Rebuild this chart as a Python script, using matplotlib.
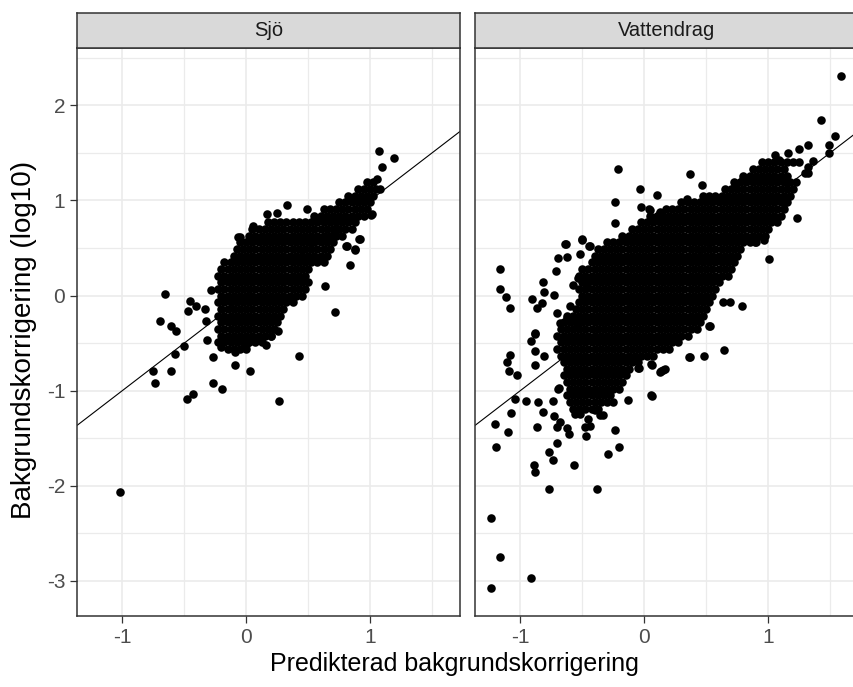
import matplotlib

matplotlib.use("Agg")

import matplotlib.pyplot as plt

# ---- data ----
PANELS = ["Sjö", "Vattendrag"]
X_TICKS = [-1, 0, 1]
Y_TICKS = [-3, -2, -1, 0, 1, 2]
X_LIM = (-1.365, 1.725)
Y_LIM = (-3.368, 2.602)

# dense core of each cloud, row by row (y level, x values)
sjo_core_y = [-0.56, -0.49, -0.42, -0.35, -0.28, -0.21, -0.14, -0.07, 0.00, 0.07, 0.14, 0.21, 0.28,
              0.35, 0.42, 0.49, 0.56, 0.63, 0.70, 0.77, 0.84, 0.91, 0.98, 1.05, 1.12, 1.19]
sjo_core_x = [
    [-0.15, -0.10, -0.05, 0.00],
    [-0.225, -0.175, -0.125, -0.075, -0.025, 0.025, 0.075, 0.125],
    [-0.20, -0.15, -0.10, -0.05, 0.00, 0.05, 0.10, 0.15, 0.20],
    [-0.225, -0.175, -0.125, -0.075, -0.025, 0.025, 0.075, 0.125, 0.175, 0.225],
    [-0.20, -0.15, -0.10, -0.05, 0.00, 0.05, 0.10, 0.15, 0.20, 0.25],
    [-0.225, -0.175, -0.125, -0.075, -0.025, 0.025, 0.075, 0.125, 0.175, 0.225, 0.275],
    [-0.20, -0.15, -0.10, -0.05, 0.00, 0.05, 0.10, 0.15, 0.20, 0.25, 0.30],
    [-0.225, -0.175, -0.125, -0.075, -0.025, 0.025, 0.075, 0.125, 0.175, 0.225, 0.275, 0.325, 0.375],
    [-0.20, -0.15, -0.10, -0.05, 0.00, 0.05, 0.10, 0.15, 0.20, 0.25, 0.30, 0.35, 0.40, 0.45],
    [-0.225, -0.175, -0.125, -0.075, -0.025, 0.025, 0.075, 0.125, 0.175, 0.225, 0.275, 0.325, 0.375, 0.425, 0.475],
    [-0.20, -0.15, -0.10, -0.05, 0.00, 0.05, 0.10, 0.15, 0.20, 0.25, 0.30, 0.35, 0.40, 0.45, 0.50],
    [-0.225, -0.175, -0.125, -0.075, -0.025, 0.025, 0.075, 0.125, 0.175, 0.225, 0.275, 0.325, 0.375, 0.425, 0.475],
    [-0.20, -0.15, -0.10, -0.05, 0.00, 0.05, 0.10, 0.15, 0.20, 0.25, 0.30, 0.35, 0.40, 0.45, 0.50],
    [-0.175, -0.125, -0.075, -0.025, 0.025, 0.075, 0.125, 0.175, 0.225, 0.275, 0.325, 0.375, 0.425, 0.475,
     0.525, 0.575, 0.625],
    [-0.10, -0.05, 0.00, 0.05, 0.10, 0.15, 0.20, 0.25, 0.30, 0.35, 0.40, 0.45, 0.50, 0.55, 0.60, 0.65],
    [-0.075, -0.025, 0.025, 0.075, 0.125, 0.175, 0.225, 0.275, 0.325, 0.375, 0.425, 0.475, 0.525, 0.575,
     0.625, 0.675],
    [-0.05, 0.00, 0.05, 0.10, 0.15, 0.20, 0.25, 0.30, 0.35, 0.40, 0.45, 0.50, 0.55, 0.60, 0.65, 0.70],
    [0.025, 0.075, 0.125, 0.175, 0.225, 0.275, 0.325, 0.375, 0.425, 0.475, 0.525, 0.575, 0.625, 0.675,
     0.725, 0.775],
    [0.05, 0.10, 0.15, 0.20, 0.25, 0.30, 0.35, 0.40, 0.45, 0.50, 0.55, 0.60, 0.65, 0.70, 0.75, 0.80, 0.85],
    [0.175, 0.225, 0.275, 0.325, 0.375, 0.425, 0.475, 0.525, 0.575, 0.625, 0.675, 0.725, 0.775, 0.825, 0.875],
    [0.55, 0.60, 0.65, 0.70, 0.75, 0.80, 0.85, 0.90, 0.95],
    [0.625, 0.675, 0.725, 0.775, 0.825, 0.875, 0.925, 0.975],
    [0.75, 0.80, 0.85, 0.90, 0.95, 1.00],
    [0.825, 0.875, 0.925, 0.975, 1.025],
    [0.90, 0.95, 1.00, 1.05],
    [0.975, 1.025],
]

# scattered points of Sjö outside the core
sjo_x = [1.07, 1.19, 1.097, 1.056, 1.076, 1.008, 0.909, 0.806, 0.874, 0.834, 0.632, 0.713, 0.331, 0.492,
         0.169, 0.25, 0.054, -0.053, -0.653, -0.287, -0.698, -0.605, -0.565, -0.456, -0.47, -0.403, -0.335,
         -0.327, -0.502, -0.577, -0.752, -0.739, -0.605, -0.43, -0.476, -0.269, -0.196, -0.269, -0.315,
         -0.094, 0.027, 0.264, 0.423, 0.156, 0.0, -1.021, 0.917, 0.81, 0.877, 1.011, -0.065, -0.202,
         -0.094, 0.094, 0.256, 0.2, 0.72]
sjo_y = [1.52, 1.445, 1.35, 1.22, 1.125, 0.846, 0.596, 0.522, 0.487, 0.324, 0.097, -0.171, 0.947, 0.905,
         0.853, 0.863, 0.735, 0.619, 0.021, 0.06, -0.268, -0.32, -0.373, -0.06, -0.164, -0.111, -0.146,
         -0.268, -0.533, -0.613, -0.798, -0.916, -0.788, -1.031, -1.09, -0.916, -0.979, -0.648, -0.467,
         -0.728, -0.788, -1.112, -0.631, -0.516, -0.519, -2.069, 0.599, 0.526, 0.484, 0.857, 0.617, -0.544,
         -0.595, -0.439, -0.37, -0.42, 0.66]

vatt_core_y = [1.40, 1.33, 1.26, 1.19, 1.12, 1.05, 0.98, 0.91, 0.84, 0.77, 0.70, 0.63, 0.56, 0.49, 0.42,
               0.35, 0.28, 0.21, 0.14, 0.07, 0.00, -0.07, -0.14, -0.21, -0.28, -0.35, -0.42, -0.49, -0.56,
               -0.63, -0.70, -0.77, -0.84, -0.91, -0.98, -1.05, -1.12, -1.19]
vatt_core_x = [
    [0.95, 1.00, 1.05, 1.10, 1.15, 1.20, 1.25],
    [0.875, 0.925, 0.975, 1.025, 1.075, 1.125],
    [0.80, 0.85, 0.90, 0.95, 1.00, 1.05, 1.10, 1.15],
    [0.725, 0.775, 0.825, 0.875, 0.925, 0.975, 1.025, 1.075, 1.125, 1.175, 1.225],
    [0.65, 0.70, 0.75, 0.80, 0.85, 0.90, 0.95, 1.00, 1.05, 1.10, 1.15, 1.20],
    [0.475, 0.525, 0.575, 0.625, 0.675, 0.725, 0.775, 0.825, 0.875, 0.925, 0.975, 1.025, 1.075, 1.125, 1.175],
    [0.30, 0.35, 0.40, 0.45, 0.50, 0.55, 0.60, 0.65, 0.70, 0.75, 0.80, 0.85, 0.90, 0.95, 1.00, 1.05, 1.10,
     1.15],
    [0.175, 0.225, 0.275, 0.325, 0.375, 0.425, 0.475, 0.525, 0.575, 0.625, 0.675, 0.725, 0.775, 0.825,
     0.875, 0.925, 0.975, 1.025, 1.075, 1.125],
    [0.05, 0.10, 0.15, 0.20, 0.25, 0.30, 0.35, 0.40, 0.45, 0.50, 0.55, 0.60, 0.65, 0.70, 0.75, 0.80, 0.85,
     0.90, 0.95, 1.00, 1.05, 1.10],
    [-0.025, 0.025, 0.075, 0.125, 0.175, 0.225, 0.275, 0.325, 0.375, 0.425, 0.475, 0.525, 0.575, 0.625,
     0.675, 0.725, 0.775, 0.825, 0.875, 0.925, 0.975, 1.025, 1.075],
    [-0.10, -0.05, 0.00, 0.05, 0.10, 0.15, 0.20, 0.25, 0.30, 0.35, 0.40, 0.45, 0.50, 0.55, 0.60, 0.65,
     0.70, 0.75, 0.80, 0.85, 0.90, 0.95, 1.00],
    [-0.175, -0.125, -0.075, -0.025, 0.025, 0.075, 0.125, 0.175, 0.225, 0.275, 0.325, 0.375, 0.425,
     0.475, 0.525, 0.575, 0.625, 0.675, 0.725, 0.775, 0.825, 0.875, 0.925, 0.975],
    [-0.30, -0.25, -0.20, -0.15, -0.10, -0.05, 0.00, 0.05, 0.10, 0.15, 0.20, 0.25, 0.30, 0.35, 0.40,
     0.45, 0.50, 0.55, 0.60, 0.65, 0.70, 0.75, 0.80, 0.85, 0.90],
    [-0.375, -0.325, -0.275, -0.225, -0.175, -0.125, -0.075, -0.025, 0.025, 0.075, 0.125, 0.175, 0.225,
     0.275, 0.325, 0.375, 0.425, 0.475, 0.525, 0.575, 0.625, 0.675, 0.725, 0.775],
    [-0.40, -0.35, -0.30, -0.25, -0.20, -0.15, -0.10, -0.05, 0.00, 0.05, 0.10, 0.15, 0.20, 0.25, 0.30,
     0.35, 0.40, 0.45, 0.50, 0.55, 0.60, 0.65, 0.70, 0.75],
    [-0.425, -0.375, -0.325, -0.275, -0.225, -0.175, -0.125, -0.075, -0.025, 0.025, 0.075, 0.125, 0.175,
     0.225, 0.275, 0.325, 0.375, 0.425, 0.475, 0.525, 0.575, 0.625, 0.675, 0.725],
    [-0.50, -0.45, -0.40, -0.35, -0.30, -0.25, -0.20, -0.15, -0.10, -0.05, 0.00, 0.05, 0.10, 0.15, 0.20,
     0.25, 0.30, 0.35, 0.40, 0.45, 0.50, 0.55, 0.60, 0.65, 0.70],
    [-0.525, -0.475, -0.425, -0.375, -0.325, -0.275, -0.225, -0.175, -0.125, -0.075, -0.025, 0.025, 0.075,
     0.125, 0.175, 0.225, 0.275, 0.325, 0.375, 0.425, 0.475, 0.525, 0.575, 0.625, 0.675],
    [-0.50, -0.45, -0.40, -0.35, -0.30, -0.25, -0.20, -0.15, -0.10, -0.05, 0.00, 0.05, 0.10, 0.15, 0.20,
     0.25, 0.30, 0.35, 0.40, 0.45, 0.50, 0.55, 0.60],
    [-0.525, -0.475, -0.425, -0.375, -0.325, -0.275, -0.225, -0.175, -0.125, -0.075, -0.025, 0.025, 0.075,
     0.125, 0.175, 0.225, 0.275, 0.325, 0.375, 0.425, 0.475, 0.525, 0.575],
    [-0.50, -0.45, -0.40, -0.35, -0.30, -0.25, -0.20, -0.15, -0.10, -0.05, 0.00, 0.05, 0.10, 0.15, 0.20,
     0.25, 0.30, 0.35, 0.40, 0.45, 0.50, 0.55],
    [-0.525, -0.475, -0.425, -0.375, -0.325, -0.275, -0.225, -0.175, -0.125, -0.075, -0.025, 0.025, 0.075,
     0.125, 0.175, 0.225, 0.275, 0.325, 0.375, 0.425, 0.475, 0.525],
    [-0.55, -0.50, -0.45, -0.40, -0.35, -0.30, -0.25, -0.20, -0.15, -0.10, -0.05, 0.00, 0.05, 0.10, 0.15,
     0.20, 0.25, 0.30, 0.35, 0.40, 0.45, 0.50],
    [-0.625, -0.575, -0.525, -0.475, -0.425, -0.375, -0.325, -0.275, -0.225, -0.175, -0.125, -0.075,
     -0.025, 0.025, 0.075, 0.125, 0.175, 0.225, 0.275, 0.325, 0.375, 0.425, 0.475],
    [-0.65, -0.60, -0.55, -0.50, -0.45, -0.40, -0.35, -0.30, -0.25, -0.20, -0.15, -0.10, -0.05, 0.00,
     0.05, 0.10, 0.15, 0.20, 0.25, 0.30, 0.35, 0.40, 0.45],
    [-0.675, -0.625, -0.575, -0.525, -0.475, -0.425, -0.375, -0.325, -0.275, -0.225, -0.175, -0.125,
     -0.075, -0.025, 0.025, 0.075, 0.125, 0.175, 0.225, 0.275, 0.325, 0.375, 0.425],
    [-0.70, -0.65, -0.60, -0.55, -0.50, -0.45, -0.40, -0.35, -0.30, -0.25, -0.20, -0.15, -0.10, -0.05,
     0.00, 0.05, 0.10, 0.15, 0.20, 0.25, 0.30, 0.35],
    [-0.675, -0.625, -0.575, -0.525, -0.475, -0.425, -0.375, -0.325, -0.275, -0.225, -0.175, -0.125,
     -0.075, -0.025, 0.025, 0.075, 0.125, 0.175, 0.225, 0.275],
    [-0.70, -0.65, -0.60, -0.55, -0.50, -0.45, -0.40, -0.35, -0.30, -0.25, -0.20, -0.15, -0.10, -0.05,
     0.00, 0.05, 0.10, 0.15, 0.20],
    [-0.675, -0.625, -0.575, -0.525, -0.475, -0.425, -0.375, -0.325, -0.275, -0.225, -0.175, -0.125,
     -0.075, -0.025, 0.025, 0.075],
    [-0.65, -0.60, -0.55, -0.50, -0.45, -0.40, -0.35, -0.30, -0.25, -0.20, -0.15, -0.10, -0.05],
    [-0.625, -0.575, -0.525, -0.475, -0.425, -0.375, -0.325, -0.275, -0.225, -0.175, -0.125],
    [-0.65, -0.60, -0.55, -0.50, -0.45, -0.40, -0.35, -0.30, -0.25, -0.20, -0.15],
    [-0.625, -0.575, -0.525, -0.475, -0.425, -0.375, -0.325, -0.275, -0.225, -0.175],
    [-0.60, -0.55, -0.50, -0.45, -0.40, -0.35, -0.30, -0.25, -0.20],
    [-0.625, -0.575, -0.525, -0.475, -0.425, -0.375, -0.325, -0.275],
    [-0.60, -0.55, -0.50, -0.45, -0.40, -0.35, -0.30],
    [-0.575, -0.525, -0.475, -0.425, -0.375],
]

# scattered points of Vattendrag outside the core
vatt_x = [1.587, 1.426, 1.541, 1.493, 1.493, 1.319, 1.158, 1.247, 1.059, 1.319, 1.322, 1.233, 1.131, 1.01,
          0.89, 0.97, 0.791, 0.636, 0.689, 0.528, -0.209, 0.367, 0.469, -0.035, 0.105, -0.237, -0.237,
          -0.022, 0.045, 0.131, 0.729, 0.796, 0.348, 0.035, 0.129, -1.166, -1.162, -1.113, -1.086, -0.907,
          -0.866, -0.826, -0.818, -0.81, -0.727, -0.711, -0.692, -0.625, -0.633, -0.504, -0.438, -0.518,
          -0.537, -0.571, -0.464, -0.705, -0.625, -0.598, -0.679, -0.88, -0.545, -0.636, -0.502, -0.442,
          -1.237, -1.162, -1.237, -0.912, -0.764, -0.384, -0.893, -0.88, -0.764, -0.732, -0.705, -0.563,
          -0.295, -0.204, -0.237, -1.194, -1.207, -1.102, -1.073, -1.046, -0.953, -0.866, -0.853, -0.818,
          -0.738, -0.727, -0.679, -0.625, -0.603, -0.692, -0.705, -0.478, -0.438, -0.47, 0.059, -0.129,
          -0.04, 0.059, 0.134, 0.166, 0.367, 0.483, 0.644, -0.88, -0.805, -0.912, -0.88, -1.108, -1.081,
          -1.027, -1.094, -0.88, 0.525, 0.364, -0.046, 0.056, 0.155, 0.129, 0.056, -0.69, -0.357, -0.249,
          -0.45, -0.52, -0.40, -0.33, -0.56, 1.09, 1.30, 1.36]
vatt_y = [2.309, 1.85, 1.672, 1.578, 1.498, 1.578, 1.498, 1.542, 1.473, 1.288, 1.35, 0.811, 0.968, 0.387,
          0.567, 0.585, -0.112, -0.07, -0.07, -0.32, 1.33, 1.275, 1.16, 1.118, 1.062, 0.985, 0.759, 0.926,
          0.899, 0.87, 1.16, 1.229, 1.02, 0.909, 0.874, 0.278, 0.069, -0.015, -0.129, -0.031, -0.129,
          -0.077, 0.139, 0.034, 0.01, 0.256, 0.393, 0.41, 0.543, 0.592, 0.522, 0.439, 0.184, 0.115, 0.097,
          -0.182, -0.234, -0.112, -0.287, -0.391, -0.303, 0.543, 0.581, 0.526, -2.337, -2.745, -3.069,
          -2.972, -2.034, -2.034, -1.78, -1.857, -1.648, -1.728, -1.554, -1.78, -1.669, -1.588, -1.415,
          -1.588, -1.345, -1.439, -1.23, -1.091, -1.112, -1.379, -1.118, -1.223, -1.112, -1.264, -1.327,
          -1.397, -1.46, -0.979, -1.379, -1.379, -1.373, -1.478, -1.055, -1.094, -0.763, -0.728, -0.798,
          -0.777, -0.648, -0.631, -0.572, -0.728, -0.631, -0.474, -0.579, -0.7, -0.624, -0.84, -0.798,
          -0.404, -0.324, -0.648, -0.763, -0.718, -0.78, -0.805, -1.049, -0.972, -1.258, -1.118, -1.30,
          -1.25, -1.20, -1.26, -1.24, 1.42, 1.29, 1.41]

SERIES = {
    "Sjö": (sjo_core_y, sjo_core_x, sjo_x, sjo_y),
    "Vattendrag": (vatt_core_y, vatt_core_x, vatt_x, vatt_y),
}

# ---- style ----
W, H = 854, 687
BORDER = "#333333"
GRID = "#EBEBEB"
STRIP = "#D9D9D9"
TICK_TXT = "#4D4D4D"

plt.rcParams["font.family"] = ["Liberation Sans", "DejaVu Sans"]
plt.rcParams["axes.unicode_minus"] = False


def fx(px):
    return px / W


def fy(py):
    return 1 - py / H


def draw_panel(ax, strip_ax, name):
    core_y, core_x, pts_x, pts_y = SERIES[name]
    xs = [x for row in core_x for x in row] + pts_x
    ys = [y for y, row in zip(core_y, core_x) for _ in row] + pts_y

    ax.axline((0, 0), slope=1, color="black", lw=0.8, zorder=2)
    ax.scatter(xs, ys, s=38, c="black", linewidths=0, zorder=3)

    ax.set_xlim(*X_LIM)
    ax.set_ylim(*Y_LIM)
    ax.set_xticks(X_TICKS)
    ax.set_xticks([-0.5, 0.5, 1.5], minor=True)
    ax.set_yticks(Y_TICKS)
    ax.set_yticks([-2.5, -1.5, -0.5, 0.5, 1.5, 2.5], minor=True)
    ax.grid(which="major", color=GRID, lw=1.2)
    ax.grid(which="minor", color=GRID, lw=0.9)
    ax.set_axisbelow(True)
    ax.tick_params(which="minor", length=0)
    ax.tick_params(which="major", length=5, width=0.9, color=BORDER, pad=3.5,
                   labelsize=15, labelcolor=TICK_TXT)
    for sp in ax.spines.values():
        sp.set_color(BORDER)
        sp.set_linewidth(1.1)

    strip_ax.set_facecolor(STRIP)
    strip_ax.set_xticks([])
    strip_ax.set_yticks([])
    for sp in strip_ax.spines.values():
        sp.set_color(BORDER)
        sp.set_linewidth(1.1)
    strip_ax.text(0.5, 0.5, name, ha="center", va="center", fontsize=14.5, color="#1A1A1A",
                  transform=strip_ax.transAxes)


fig = plt.figure(figsize=(W / 100, H / 100), dpi=100)

panel_top, panel_bot = 48, 616
strip_top = 13
panel_w = 383
lefts = [77, 475]

for name, left in zip(PANELS, lefts):
    ax = fig.add_axes([fx(left), fy(panel_bot), panel_w / W, (panel_bot - panel_top) / H])
    sax = fig.add_axes([fx(left), fy(panel_top), panel_w / W, (panel_top - strip_top) / H])
    draw_panel(ax, sax, name)
    if name != PANELS[0]:
        ax.tick_params(axis="y", left=False, labelleft=False)

fig.text(fx(454), fy(664), "Predikterad bakgrundskorrigering", ha="center", va="center",
         fontsize=18, color="black")
fig.text(fx(24), fy(340), "Bakgrundskorrigering (log10)", ha="center", va="center",
         rotation=90, fontsize=20, color="black")

fig.savefig("out.png", dpi=100)
